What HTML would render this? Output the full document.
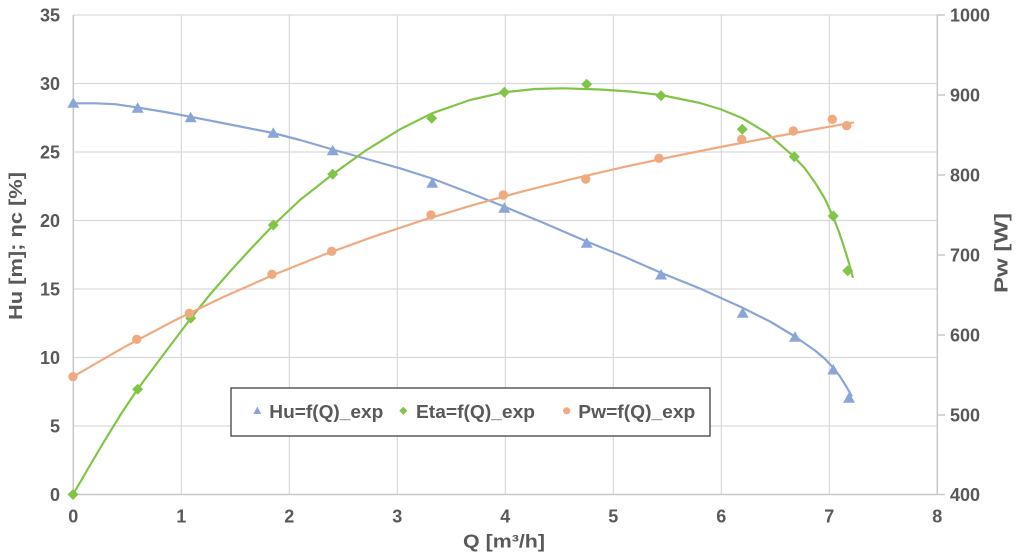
<!DOCTYPE html>
<html><head><meta charset="utf-8"><style>
html,body{margin:0;padding:0;background:#fff;}
svg{display:block;}
text{font-family:"Liberation Sans",Arial,sans-serif;font-weight:bold;fill:#595959;}
</style></head><body>
<svg width="1020" height="555" viewBox="0 0 1020 555" xmlns="http://www.w3.org/2000/svg">
<rect width="1020" height="555" fill="#fff"/>
<!-- gridlines -->
<g stroke="#d9d9d9" stroke-width="1.2">
<line x1="73.3" y1="426" x2="937.3" y2="426"/>
<line x1="73.3" y1="357.5" x2="937.3" y2="357.5"/>
<line x1="73.3" y1="289" x2="937.3" y2="289"/>
<line x1="73.3" y1="220.5" x2="937.3" y2="220.5"/>
<line x1="73.3" y1="152" x2="937.3" y2="152"/>
<line x1="73.3" y1="83.5" x2="937.3" y2="83.5"/>
<line x1="73.3" y1="15" x2="937.3" y2="15"/>
<line x1="181.3" y1="15" x2="181.3" y2="494.5"/>
<line x1="289.3" y1="15" x2="289.3" y2="494.5"/>
<line x1="397.3" y1="15" x2="397.3" y2="494.5"/>
<line x1="505.3" y1="15" x2="505.3" y2="494.5"/>
<line x1="613.3" y1="15" x2="613.3" y2="494.5"/>
<line x1="721.3" y1="15" x2="721.3" y2="494.5"/>
<line x1="829.3" y1="15" x2="829.3" y2="494.5"/>
</g>
<g stroke="#c8c8c8" stroke-width="1.5">
<line x1="73.3" y1="15" x2="73.3" y2="494.5"/>
<line x1="73.3" y1="494.5" x2="937.3" y2="494.5"/>
<line x1="937.3" y1="15" x2="937.3" y2="494.5"/>
<line x1="937.3" y1="15" x2="945" y2="15"/>
<line x1="937.3" y1="95" x2="945" y2="95"/>
<line x1="937.3" y1="175" x2="945" y2="175"/>
<line x1="937.3" y1="255" x2="945" y2="255"/>
<line x1="937.3" y1="335" x2="945" y2="335"/>
<line x1="937.3" y1="415" x2="945" y2="415"/>
<line x1="937.3" y1="494.5" x2="945" y2="494.5"/>
</g>
<!-- left labels -->
<g font-size="18" text-anchor="end">
<text x="60" y="21.5">35</text>
<text x="60" y="90">30</text>
<text x="60" y="158.5">25</text>
<text x="60" y="227">20</text>
<text x="60" y="295.5">15</text>
<text x="60" y="364">10</text>
<text x="60" y="432.5">5</text>
<text x="60" y="501">0</text>
</g>
<!-- bottom labels -->
<g font-size="18" text-anchor="middle">
<text x="73.3" y="522.5">0</text>
<text x="181.3" y="522.5">1</text>
<text x="289.3" y="522.5">2</text>
<text x="397.3" y="522.5">3</text>
<text x="505.3" y="522.5">4</text>
<text x="613.3" y="522.5">5</text>
<text x="721.3" y="522.5">6</text>
<text x="829.3" y="522.5">7</text>
<text x="937.3" y="522.5">8</text>
</g>
<!-- right labels -->
<g font-size="18">
<text x="950" y="21.5">1000</text>
<text x="950" y="101.5">900</text>
<text x="950" y="181.5">800</text>
<text x="950" y="261.5">700</text>
<text x="950" y="341.5">600</text>
<text x="950" y="421.5">500</text>
<text x="950" y="501">400</text>
</g>
<!-- axis titles -->
<text x="504" y="547.5" font-size="18" text-anchor="middle" textLength="82" lengthAdjust="spacingAndGlyphs">Q [m³/h]</text>
<text transform="translate(22,246) rotate(-90)" font-size="18" text-anchor="middle" textLength="148" lengthAdjust="spacingAndGlyphs">Hu [m]; ηc [%]</text>
<text transform="translate(1007.5,253) rotate(-90)" font-size="18" text-anchor="middle" textLength="80" lengthAdjust="spacingAndGlyphs">Pw [W]</text>

<!-- Hu curve -->
<polyline fill="none" stroke="#8ca5d7" stroke-width="2.2" stroke-linejoin="round" points="73,103.3 95,103.3 115,104.2 137.7,107.5 165,112 190.7,116.8 230,124.5 273,133 300,140 332.7,149.5 365,158.5 400,168.3 432,178.5 470,193 504,206.5 545,223.5 586.7,241.5 625,257 661,272.8 700,288.5 742,307.5 770,321.5 795,336.5 815,350.5 825,359 833,367.5 840,376.5 846,386 852,396.5"/>
<!-- Eta curve -->
<polyline fill="none" stroke="#82c448" stroke-width="2.2" stroke-linejoin="round" points="73,494.5 89,467 105,440 121,414 137.7,389 165,352.5 190.7,318.5 210,294.5 230,271.5 252,247.5 273,225.5 300,200 332.7,174.3 365,151 400,129.3 432,113.3 470,100 504,92.3 535,89 563,88.3 600,89.5 630,91.5 661,95 700,103 720,109 742,118 767,133 794,156.7 805,168.5 816,184 825,199 833,216.5 839,232 844,247 849,263 853,278"/>
<!-- Pw curve -->
<polyline fill="none" stroke="#f0aa82" stroke-width="2.2" stroke-linejoin="round" points="73,376.7 123,347.8 173,321.3 223,297.1 273,275.1 323,255 373,236.8 423,220.2 473,205.1 523,191.3 573,178.8 623,167.2 673,156.5 723,146.5 773,137 823,127.8 854,122.3"/>

<!-- Hu markers -->
<g fill="#8ca5d7">
<polygon points="73.3,97.3 79.3,107.8 67.3,107.8"/>
<polygon points="137.7,102.3 143.7,112.8 131.7,112.8"/>
<polygon points="190.7,111.7 196.7,122.2 184.7,122.2"/>
<polygon points="273.3,127.3 279.3,137.8 267.3,137.8"/>
<polygon points="332.7,144.7 338.7,155.2 326.7,155.2"/>
<polygon points="432.3,177.3 438.3,187.8 426.3,187.8"/>
<polygon points="504.3,202.3 510.3,212.8 498.3,212.8"/>
<polygon points="586.7,237.3 592.7,247.8 580.7,247.8"/>
<polygon points="661,269 667,279.5 655,279.5"/>
<polygon points="742.7,307.3 748.7,317.8 736.7,317.8"/>
<polygon points="795,331.3 801,341.8 789,341.8"/>
<polygon points="833.3,364 839.3,374.5 827.3,374.5"/>
<polygon points="849,392.3 855,402.8 843,402.8"/>
</g>
<!-- Eta markers -->
<g fill="#82c448">
<polygon points="73,489 78.5,494.5 73,500 67.5,494.5"/>
<polygon points="137.7,383.8 143.2,389.3 137.7,394.8 132.2,389.3"/>
<polygon points="190.7,312.8 196.2,318.3 190.7,323.8 185.2,318.3"/>
<polygon points="273.3,219.5 278.8,225 273.3,230.5 267.8,225"/>
<polygon points="332.7,168.8 338.2,174.3 332.7,179.8 327.2,174.3"/>
<polygon points="431.7,112.8 437.2,118.3 431.7,123.8 426.2,118.3"/>
<polygon points="504.3,86.8 509.8,92.3 504.3,97.8 498.8,92.3"/>
<polygon points="586.7,78.8 592.2,84.3 586.7,89.8 581.2,84.3"/>
<polygon points="661,90.2 666.5,95.7 661,101.2 655.5,95.7"/>
<polygon points="742.3,123.8 747.8,129.3 742.3,134.8 736.8,129.3"/>
<polygon points="794.3,151.2 799.8,156.7 794.3,162.2 788.8,156.7"/>
<polygon points="833.3,210.5 838.8,216 833.3,221.5 827.8,216"/>
<polygon points="847.7,265.2 853.2,270.7 847.7,276.2 842.2,270.7"/>
</g>
<!-- Pw markers -->
<g fill="#f0aa82">
<circle cx="73" cy="376.7" r="4.7"/>
<circle cx="136.7" cy="339.3" r="4.7"/>
<circle cx="189.3" cy="313.3" r="4.7"/>
<circle cx="272" cy="274.3" r="4.7"/>
<circle cx="331.7" cy="251.3" r="4.7"/>
<circle cx="431" cy="215" r="4.7"/>
<circle cx="503.3" cy="195" r="4.7"/>
<circle cx="585.7" cy="179" r="4.7"/>
<circle cx="659" cy="158.3" r="4.7"/>
<circle cx="741.7" cy="139.3" r="4.7"/>
<circle cx="793.3" cy="131" r="4.7"/>
<circle cx="832.3" cy="119.3" r="4.7"/>
<circle cx="846.7" cy="125.7" r="4.7"/>
</g>

<!-- legend -->
<rect x="231" y="388" width="479" height="48" fill="#fff" stroke="#404040" stroke-width="1.3"/>
<polygon points="257.3,406.5 261.3,414 253.3,414" fill="#8ca5d7"/>
<text x="269.3" y="417.8" font-size="18" textLength="114" lengthAdjust="spacingAndGlyphs">Hu=f(Q)_exp</text>
<polygon points="403.3,406.7 407.3,410.7 403.3,414.7 399.3,410.7" fill="#82c448"/>
<text x="416" y="417.8" font-size="18" textLength="119" lengthAdjust="spacingAndGlyphs">Eta=f(Q)_exp</text>
<circle cx="566.7" cy="410.8" r="3.6" fill="#f0aa82"/>
<text x="578.3" y="417.8" font-size="18" textLength="117" lengthAdjust="spacingAndGlyphs">Pw=f(Q)_exp</text>
</svg>
</body></html>
